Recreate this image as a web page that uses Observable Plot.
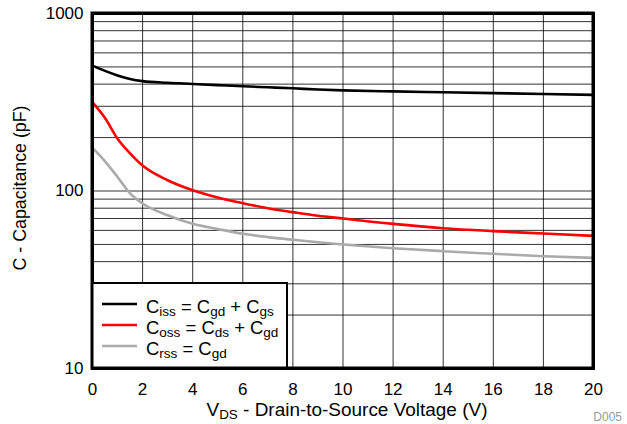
<!DOCTYPE html>
<html>
<head>
<meta charset="utf-8">
<script src="https://cdn.jsdelivr.net/npm/d3@7"></script>
<script src="https://cdn.jsdelivr.net/npm/@observablehq/plot@0.6"></script>
<style>
  html, body { margin: 0; padding: 0; background: #fff; }
  #chart { position: relative; width: 627px; height: 424px; }
  svg { font-family: "Liberation Sans", Arial, sans-serif; }
</style>
</head>
<body>
<div id="chart"></div>
<script>
// Data
const vds  = [0, 0.5, 1, 1.5, 2, 3, 4, 5, 6, 7, 8, 9, 10, 12, 14, 16, 18, 20];
const ciss = [509, 475, 448, 428, 416, 407, 401, 395, 389, 384, 379, 373, 369, 364, 360, 356, 352, 348];
const coss = [316, 258, 197, 163, 139, 115, 101, 92, 85.4, 80, 76, 72.5, 70, 65.3, 61.7, 59.4, 57.6, 55.9];
const crss = [175, 147, 120, 97, 85, 73, 65.3, 61, 57.4, 55, 53.1, 51.4, 50, 47.6, 45.8, 44.3, 42.9, 42];

const seriesNames = ["Ciss", "Coss", "Crss"];
const seriesColors = ["#000000", "#ff0000", "#aaaaaa"];
const seriesValues = [ciss, coss, crss];
const legendParts = [
  [["C", ""], ["iss", "sub"], [" = C", ""], ["gd", "sub"], [" + C", ""], ["gs", "sub"]],
  [["C", ""], ["oss", "sub"], [" = C", ""], ["ds", "sub"], [" + C", ""], ["gd", "sub"]],
  [["C", ""], ["rss", "sub"], [" = C", ""], ["gd", "sub"]]
];

const xTicks = [0, 2, 4, 6, 8, 10, 12, 14, 16, 18, 20];
const xGrid = [2, 4, 6, 8, 10, 12, 14, 16, 18];
const yTicks = [10, 100, 1000];
const yGrid = [20, 30, 40, 50, 60, 70, 80, 90, 200, 300, 400, 500, 600, 700, 800, 900, 100];

const rows = [];
seriesNames.forEach((name, i) => {
  vds.forEach((v, j) => rows.push({series: name, vds: v, c: seriesValues[i][j]}));
});

const chart = Plot.plot({
  width: 627,
  height: 424,
  marginLeft: 92,
  marginRight: 34,
  marginTop: 13,
  marginBottom: 56,
  style: {fontFamily: "'Liberation Sans', Arial, sans-serif", fontSize: "17px", color: "#000", background: "#fff"},
  x: {domain: [0, 20], ticks: xTicks, tickSize: 0, tickPadding: 14, label: null},
  y: {type: "log", domain: [10, 1000], ticks: yTicks, tickFormat: d3.format("d"), tickSize: 0, tickPadding: 9, label: null},
  color: {domain: seriesNames, range: seriesColors},
  marks: [
    Plot.ruleX(xGrid, {stroke: "#000", strokeWidth: 1, strokeOpacity: 0.8}),
    Plot.ruleY(yGrid, {stroke: "#000", strokeWidth: 1, strokeOpacity: 0.8}),
    Plot.line(rows, {x: "vds", y: "c", z: "series", stroke: "series", strokeWidth: 2.6, curve: "monotone-x"}),
    Plot.frame({stroke: "#000", strokeWidth: 3}),
    Plot.axisX({ticks: xTicks, tickSize: 0, tickPadding: 14, label: null}),
    Plot.axisY({ticks: yTicks, tickFormat: d3.format("d"), tickSize: 0, tickPadding: 9, label: null})
  ]
});

document.getElementById("chart").appendChild(chart);

const svg = d3.select(chart);
const font = "'Liberation Sans', Arial, sans-serif";

// fit a text (with tspans) to a target width by scaling all its font sizes
function fit(textSel, target) {
  const node = textSel.node();
  const len = node.getComputedTextLength();
  if (!len) return;
  const k = target / len;
  textSel.attr("font-size", +textSel.attr("font-size") * k);
  textSel.selectAll("tspan").each(function() {
    const fs = this.getAttribute("font-size");
    if (fs) this.setAttribute("font-size", +fs * k);
    const dy = this.getAttribute("dy");
    if (dy) this.setAttribute("dy", +dy * k);
  });
}

// Axis titles
const xt = svg.append("text")
  .attr("x", 347).attr("y", 416)
  .attr("text-anchor", "middle")
  .attr("font-family", font).attr("font-size", 17).attr("fill", "#000");
xt.append("tspan").text("V");
xt.append("tspan").attr("font-size", 12).attr("dy", 3).text("DS");
xt.append("tspan").attr("dy", -3).text(" - Drain-to-Source Voltage (V)");
fit(xt, 281);

const yt = svg.append("text")
  .attr("transform", "translate(26,188) rotate(-90)")
  .attr("text-anchor", "middle")
  .attr("font-family", font).attr("font-size", 17).attr("fill", "#000")
  .text("C - Capacitance (pF)");
fit(yt, 165);

svg.append("text")
  .attr("x", 622).attr("y", 421)
  .attr("text-anchor", "end")
  .attr("font-family", font).attr("font-size", 12).attr("fill", "#999")
  .text("D005");

// Legend
const lg = svg.append("g");
lg.append("rect").attr("x", 92).attr("y", 283).attr("width", 195).attr("height", 85)
  .attr("fill", "#fff").attr("stroke", "#000").attr("stroke-width", 2);
const rowY = [304, 325, 346];
let legendK = 1;
seriesNames.forEach((name, i) => {
  lg.append("line").attr("x1", 102).attr("x2", 137).attr("y1", rowY[i]).attr("y2", rowY[i])
    .attr("stroke", seriesColors[i]).attr("stroke-width", 2.6);
  const t = lg.append("text").attr("x", 146).attr("y", rowY[i] + 9)
    .attr("text-anchor", "start")
    .attr("font-family", font).attr("font-size", 19).attr("fill", "#000");
  let prevSub = false;
  legendParts[i].forEach(([s, kind]) => {
    const sp = t.append("tspan").text(s);
    if (kind === "sub") { sp.attr("font-size", 14).attr("dy", prevSub ? 0 : 3); prevSub = true; }
    else { if (prevSub) sp.attr("dy", -3); prevSub = false; }
  });
  if (i === 0) {
    const len = t.node().getComputedTextLength();
    legendK = len ? 128 / len : 1;
  }
  t.attr("font-size", 19 * legendK);
  t.selectAll("tspan").each(function() {
    const fs = this.getAttribute("font-size");
    if (fs) this.setAttribute("font-size", +fs * legendK);
  });
});
// redraw frame on top of legend
svg.append("rect").attr("x", 92).attr("y", 13).attr("width", 501).attr("height", 355)
  .attr("fill", "none").attr("stroke", "#000").attr("stroke-width", 3);
</script>
</body>
</html>
